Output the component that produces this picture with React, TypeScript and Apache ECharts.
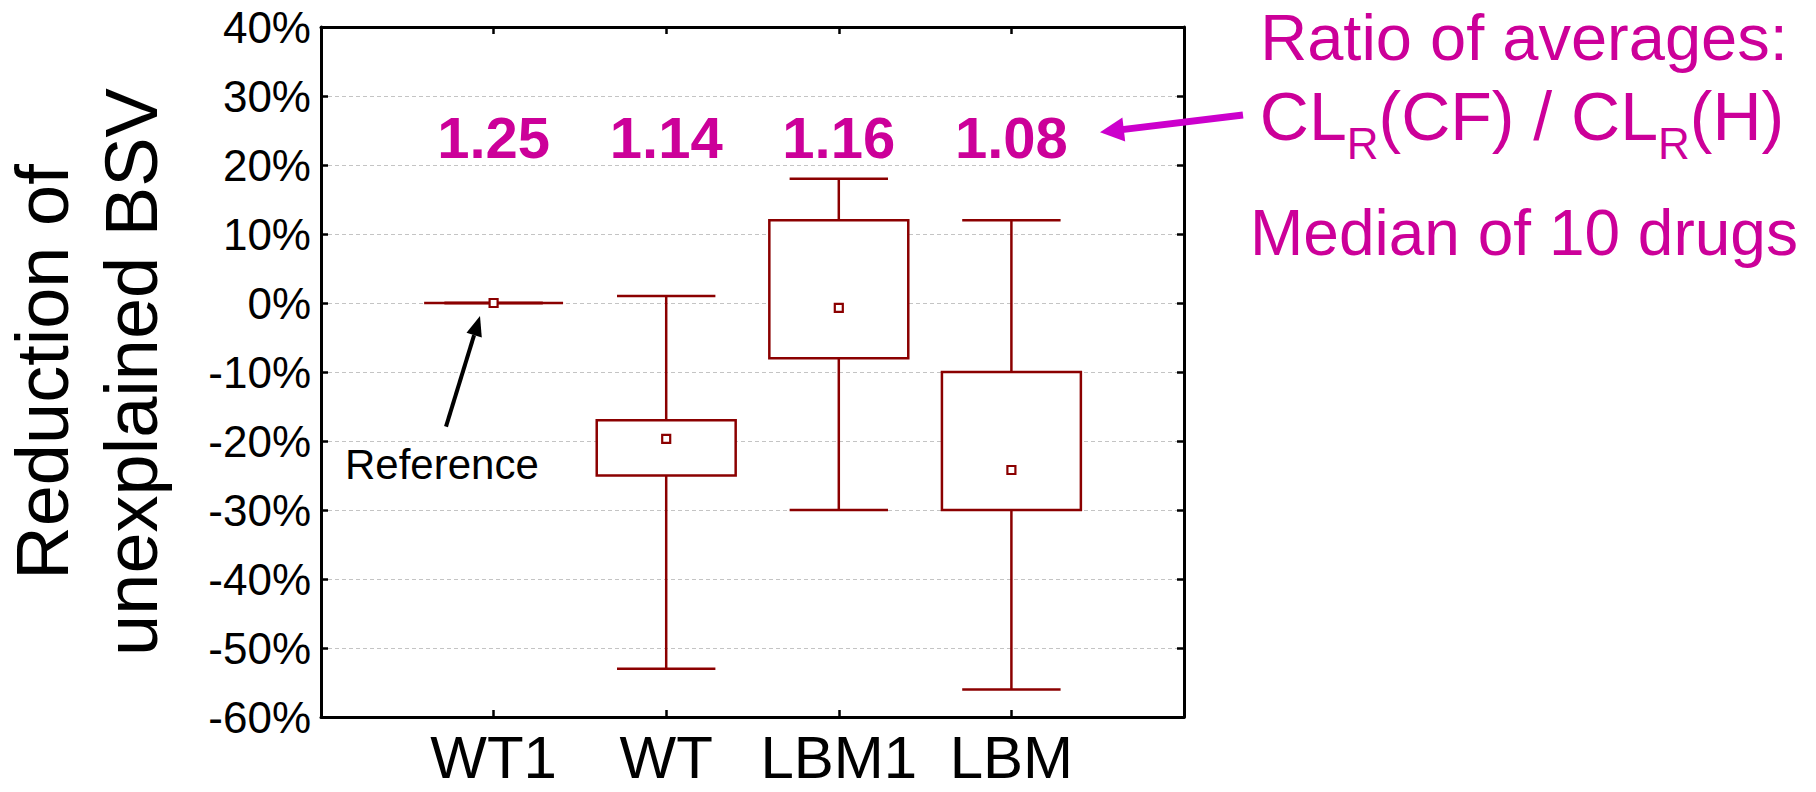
import React, { useEffect, useRef } from 'react';
import * as echarts from 'echarts';

// ---- data ----
const CATEGORIES = ['WT1', 'WT', 'LBM1', 'LBM'];
const WHISKER_LOW = [0, -53, -30, -56];
const Q1 = [0, -25, -8, -30];
const MEDIAN = [0, -19.7, -0.7, -24.2];
const Q3 = [0, -17, 12, -10];
const WHISKER_HIGH = [0, 1, 18, 12];
const RATIOS = ['1.25', '1.14', '1.16', '1.08'];
const Y_MIN = -60;
const Y_MAX = 40;
const Y_INTERVAL = 10;
const RATIO_LABEL_Y = 24;

const FONT = "'Liberation Sans', Arial, Helvetica, sans-serif";
const BOX_COLOR = '#8b0000';
const MAGENTA = '#cc0099';
const ARROW_MAGENTA = '#cc00cc';

const App: React.FC = () => {
  const ref = useRef<HTMLDivElement>(null);

  useEffect(() => {
    if (!ref.current) return;
    const chart = echarts.init(ref.current, undefined, { renderer: 'svg' });

    const axisCats = ['', ...CATEGORIES, ''];
    const boxData = CATEGORIES.map((_, i) => [
      i + 1,
      WHISKER_LOW[i],
      Q1[i],
      MEDIAN[i],
      Q3[i],
      WHISKER_HIGH[i],
    ]);

    const frameLine = { show: true, onZero: false, lineStyle: { color: '#000', width: 3 } };
    const tickIn = { show: true, inside: true, length: 7, lineStyle: { color: '#000', width: 2.5 } };

    const option: any = {
      animation: false,
      backgroundColor: '#fff',
      grid: {
        left: 321,
        top: 27,
        width: 863,
        height: 690,
        outerBoundsMode: 'none',
        containLabel: false,
      },
      xAxis: [
        {
          type: 'category',
          data: axisCats,
          boundaryGap: false,
          position: 'bottom',
          axisLine: frameLine,
          axisTick: { ...tickIn, interval: 0 },
          axisLabel: {
            interval: 0,
            fontSize: 60,
            lineHeight: 60,
            fontFamily: FONT,
            color: '#000',
            margin: 10,
          },
          splitLine: { show: false },
        },
        {
          type: 'category',
          data: axisCats,
          boundaryGap: false,
          position: 'top',
          axisLine: frameLine,
          axisTick: { ...tickIn, interval: 0 },
          axisLabel: { show: false },
          splitLine: { show: false },
        },
      ],
      yAxis: [
        {
          type: 'value',
          min: Y_MIN,
          max: Y_MAX,
          interval: Y_INTERVAL,
          position: 'left',
          name: 'Reduction of\nunexplained BSV',
          nameLocation: 'middle',
          nameRotate: 90,
          nameGap: 145,
          nameTextStyle: {
            fontSize: 74,
            lineHeight: 89,
            fontFamily: FONT,
            color: '#000',
            align: 'center',
          },
          axisLine: frameLine,
          axisTick: tickIn,
          axisLabel: {
            formatter: '{value}%',
            fontSize: 44,
            fontFamily: FONT,
            color: '#000',
            margin: 10,
          },
          splitLine: {
            show: true,
            lineStyle: { color: '#c4c4c4', width: 1, type: [4, 3] },
          },
        },
        {
          type: 'value',
          min: Y_MIN,
          max: Y_MAX,
          interval: Y_INTERVAL,
          position: 'right',
          axisLine: frameLine,
          axisTick: tickIn,
          axisLabel: { show: false },
          splitLine: { show: false },
        },
      ],
      series: [
        {
          type: 'custom',
          xAxisIndex: 0,
          yAxisIndex: 0,
          data: boxData,
          encode: { x: 0, y: [1, 2, 3, 4, 5] },
          z: 5,
          renderItem: (params: any, api: any) => {
            const idx = api.value(0);
            const low = api.coord([idx, api.value(1)]);
            const q1 = api.coord([idx, api.value(2)]);
            const med = api.coord([idx, api.value(3)]);
            const q3 = api.coord([idx, api.value(4)]);
            const high = api.coord([idx, api.value(5)]);
            const next = api.coord([idx + 1, api.value(1)]);
            const band = Math.abs(next[0] - low[0]);
            const bw = band * 0.805;
            const cw = band * 0.57;
            const cx = low[0];
            const st = { stroke: BOX_COLOR, lineWidth: 2.5, fill: null };
            const children: any[] = [
              { type: 'line', shape: { x1: cx, y1: high[1], x2: cx, y2: q3[1] }, style: st },
              { type: 'line', shape: { x1: cx, y1: q1[1], x2: cx, y2: low[1] }, style: st },
              { type: 'line', shape: { x1: cx - cw / 2, y1: high[1], x2: cx + cw / 2, y2: high[1] }, style: st },
              { type: 'line', shape: { x1: cx - cw / 2, y1: low[1], x2: cx + cw / 2, y2: low[1] }, style: st },
            ];
            const h = q1[1] - q3[1];
            if (h < 1) {
              children.push({
                type: 'line',
                shape: { x1: cx - bw / 2, y1: q3[1], x2: cx + bw / 2, y2: q3[1] },
                style: st,
              });
            } else {
              children.push({
                type: 'rect',
                shape: { x: cx - bw / 2, y: q3[1], width: bw, height: h },
                style: { fill: '#fff', stroke: BOX_COLOR, lineWidth: 2.5 },
              });
            }
            children.push({
              type: 'rect',
              shape: { x: med[0] - 4, y: med[1] - 4, width: 8, height: 8 },
              style: { fill: '#fff', stroke: BOX_COLOR, lineWidth: 2.2 },
            });
            return { type: 'group', children };
          },
        },
        {
          type: 'scatter',
          xAxisIndex: 0,
          yAxisIndex: 0,
          symbolSize: 0,
          itemStyle: { opacity: 1 },
          data: RATIOS.map((_, i) => [i + 1, RATIO_LABEL_Y]),
          label: {
            show: true,
            position: 'inside',
            formatter: (p: any) => RATIOS[p.dataIndex],
            fontSize: 58,
            fontWeight: 'bold',
            fontFamily: FONT,
            color: MAGENTA,
            opacity: 1,
          },
          emphasis: { disabled: true },
          z: 6,
        },
      ],
      graphic: [
        {
          type: 'text',
          x: 345,
          y: 464,
          style: {
            text: 'Reference',
            fontSize: 42,
            fontFamily: FONT,
            fill: '#000',
            align: 'left',
            textAlign: 'left',
            verticalAlign: 'middle',
            textVerticalAlign: 'middle',
          },
          z: 10,
        },
        {
          type: 'line',
          shape: { x1: 446, y1: 426.7, x2: 474.1, y2: 335.1 },
          style: { stroke: '#000', lineWidth: 4 },
          z: 10,
        },
        {
          type: 'polygon',
          shape: { points: [[480, 316], [481.8, 337.5], [466.5, 332.8]] },
          style: { fill: '#000' },
          z: 10,
        },
        {
          type: 'line',
          shape: { x1: 1243, y1: 115, x2: 1122, y2: 129.6 },
          style: { stroke: ARROW_MAGENTA, lineWidth: 7 },
          z: 10,
        },
        {
          type: 'polygon',
          shape: { points: [[1100, 132.3], [1125.2, 141.5], [1122.4, 117.5]] },
          style: { fill: ARROW_MAGENTA },
          z: 10,
        },
        {
          type: 'text',
          x: 1524,
          y: 37,
          style: {
            text: 'Ratio of averages:',
            fontSize: 65,
            lineHeight: 62,
            fontFamily: FONT,
            fill: MAGENTA,
            align: 'center',
            textAlign: 'center',
            verticalAlign: 'middle',
            textVerticalAlign: 'middle',
          },
          z: 10,
        },
        {
          type: 'text',
          x: 1522,
          y: 116,
          style: {
            text: '{m|CL}{s|R}{m|(CF) / CL}{s|R}{m|(H)}',
            fontFamily: FONT,
            fill: MAGENTA,
            align: 'center',
            textAlign: 'center',
            verticalAlign: 'middle',
            textVerticalAlign: 'middle',
            rich: {
              m: { fontSize: 68, lineHeight: 80, fontFamily: FONT, fill: MAGENTA, color: MAGENTA },
              s: {
                fontSize: 44,
                height: 26,
                lineHeight: 26,
                verticalAlign: 'bottom',
                fontFamily: FONT,
                fill: MAGENTA,
                color: MAGENTA,
              },
            },
          },
          z: 10,
        },
        {
          type: 'text',
          x: 1524,
          y: 233,
          style: {
            text: 'Median of 10 drugs',
            fontSize: 64,
            fontFamily: FONT,
            fill: MAGENTA,
            align: 'center',
            textAlign: 'center',
            verticalAlign: 'middle',
            textVerticalAlign: 'middle',
          },
          z: 10,
        },
      ],
    };

    chart.setOption(option);
    return () => {
      chart.dispose();
    };
  }, []);

  return (
    <div
      ref={ref}
      style={{ position: 'absolute', left: 0, top: 0, width: 1816, height: 792, background: '#fff' }}
    />
  );
};

export default App;
